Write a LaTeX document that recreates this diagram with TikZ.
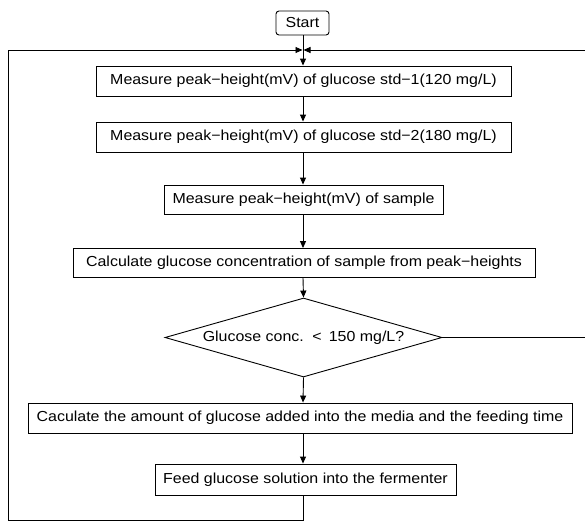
\documentclass[tikz,border=0pt]{standalone}
\usepackage{fontspec}
\usepackage{graphicx}
\setmainfont{Liberation Sans}
\usetikzlibrary{shapes.geometric,arrows.meta}
\newcommand{\hstretch}[1]{\scalebox{1.1}[1]{#1}}
\begin{document}
\begin{tikzpicture}[x=1pt,y=-1pt,
  box/.style={draw,line width=0.9pt,inner sep=0pt,font=\fontsize{14.5}{16}\selectfont},
  arr/.style={line width=0.9pt,-{Triangle[length=7pt,width=6pt]}},
  ln/.style={line width=0.9pt}]
\useasboundingbox (0,0) rectangle (585,522);
\node[box,rounded corners=3pt,minimum width=53pt,minimum height=24pt] (start) at (302.5,23) {\hstretch{Start}};
\node[box,minimum width=415pt,minimum height=30pt] (b1) at (303.5,81) {\hstretch{Measure peak\textminus height(mV) of glucose std\textminus 1(120 mg/L)}};
\node[box,minimum width=415pt,minimum height=30pt] (b2) at (303.5,137) {\hstretch{Measure peak\textminus height(mV) of glucose std\textminus 2(180 mg/L)}};
\node[box,minimum width=279pt,minimum height=29pt] (b3) at (303.5,199.5) {\hstretch{Measure peak\textminus height(mV) of sample}};
\node[box,minimum width=462pt,minimum height=29pt] (b4) at (304,263) {\hstretch{Calculate glucose concentration of sample from peak\textminus heights}};
\node[box,diamond,aspect=3.5,minimum width=277pt,minimum height=79pt] (d) at (303.5,337.5) {\hstretch{Glucose conc. \,<\, 150 mg/L?}};
\node[box,minimum width=544pt,minimum height=30pt] (b5) at (300,418) {\hstretch{Caculate the amount of glucose added into the media and the feeding time}};
\node[box,minimum width=301pt,minimum height=31pt] (b6) at (305.5,479.5) {\hstretch{Feed glucose solution into the fermenter}};
\coordinate (m) at (303,50);
\coordinate (tl) at (8,50);
\coordinate (tr) at (585,50);
\coordinate (bl) at (8,520);
\coordinate (br) at (303,520);
\coordinate (dr) at (585,337.5);
\draw[arr] (start.south -| m) -- (b1.north -| m);
\draw[arr] (b1.south -| m) -- (b2.north -| m);
\draw[arr] (b2.south -| m) -- (b3.north -| m);
\draw[arr] (b3.south -| m) -- (b4.north -| m);
\draw[arr] (b4.south -| m) -- (d.north);
\draw[arr] (d.south) -- (b5.north -| m);
\draw[arr] (b5.south -| m) -- (b6.north -| m);
\draw[ln] (b6.south -| m) -- (br) -- (bl) -- (tl);
\draw[arr] (tl) -- ([xshift=-0.5pt]m);
\draw[arr] (tr) -- ([xshift=0.5pt]m);
\draw[ln] (d.east) -- (dr);
\end{tikzpicture}
\end{document}
